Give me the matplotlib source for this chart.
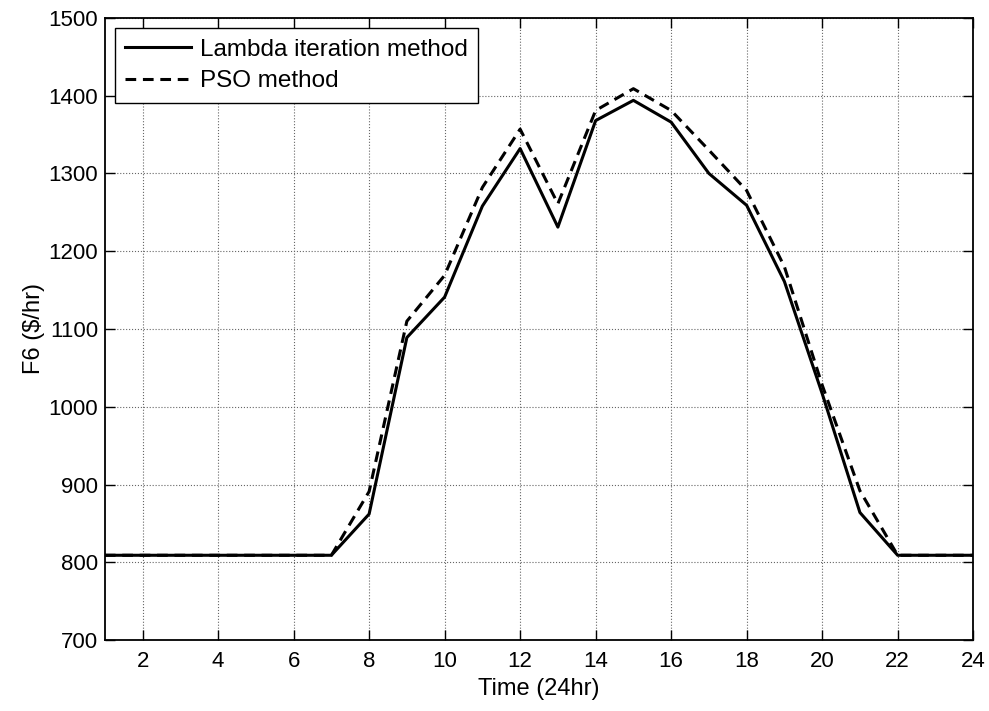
import numpy as np
import matplotlib.pyplot as plt

# Horas y costos F6 ($/hr)
hours = np.arange(1, 25)
lambda_cost = [809, 809, 809, 809, 809, 809, 809, 862, 1089, 1141, 1258, 1332,
               1231, 1368, 1394, 1366, 1300, 1259, 1161, 1017, 864, 809, 809, 809]
pso_cost = [809, 809, 809, 809, 809, 809, 809, 891, 1110, 1169, 1282, 1357,
            1261, 1381, 1409, 1381, 1330, 1278, 1180, 1028, 892, 809, 809, 809]

plt.rcParams['font.family'] = ['Liberation Sans', 'DejaVu Sans']

fig = plt.figure(figsize=(9.89, 7.11), dpi=100)
ax = fig.add_axes([0.106, 0.0998, 0.878, 0.875])

ax.plot(hours, lambda_cost, color='black', lw=2.2, label='Lambda iteration method')
ax.plot(hours, pso_cost, color='black', lw=2.2, ls=(0, (3.5, 2.2)), label='PSO method')

ax.set_xlim(1, 24)
ax.set_ylim(700, 1500)
ax.set_xticks(np.arange(2, 25, 2))
ax.set_yticks(np.arange(700, 1501, 100))
ax.tick_params(direction='in', top=True, right=True, labelsize=16, length=7, width=1)
ax.tick_params(axis='x', pad=8)
ax.tick_params(axis='y', pad=5)
ax.grid(True, color='#666666', ls=':', lw=0.8)
for s in ax.spines.values():
    s.set_linewidth(1.3)

ax.set_xlabel('Time (24hr)', fontsize=17, labelpad=4)
ax.set_ylabel('F6 ($/hr)', fontsize=17, labelpad=2)

leg = ax.legend(loc='upper left', fontsize=17.5, fancybox=False, framealpha=1,
                edgecolor='black', handlelength=2.7, handletextpad=0.35,
                borderaxespad=0.4, borderpad=0.45, labelspacing=0.4)
leg.get_frame().set_linewidth(1.0)

fig.savefig('out.png', dpi=100)
